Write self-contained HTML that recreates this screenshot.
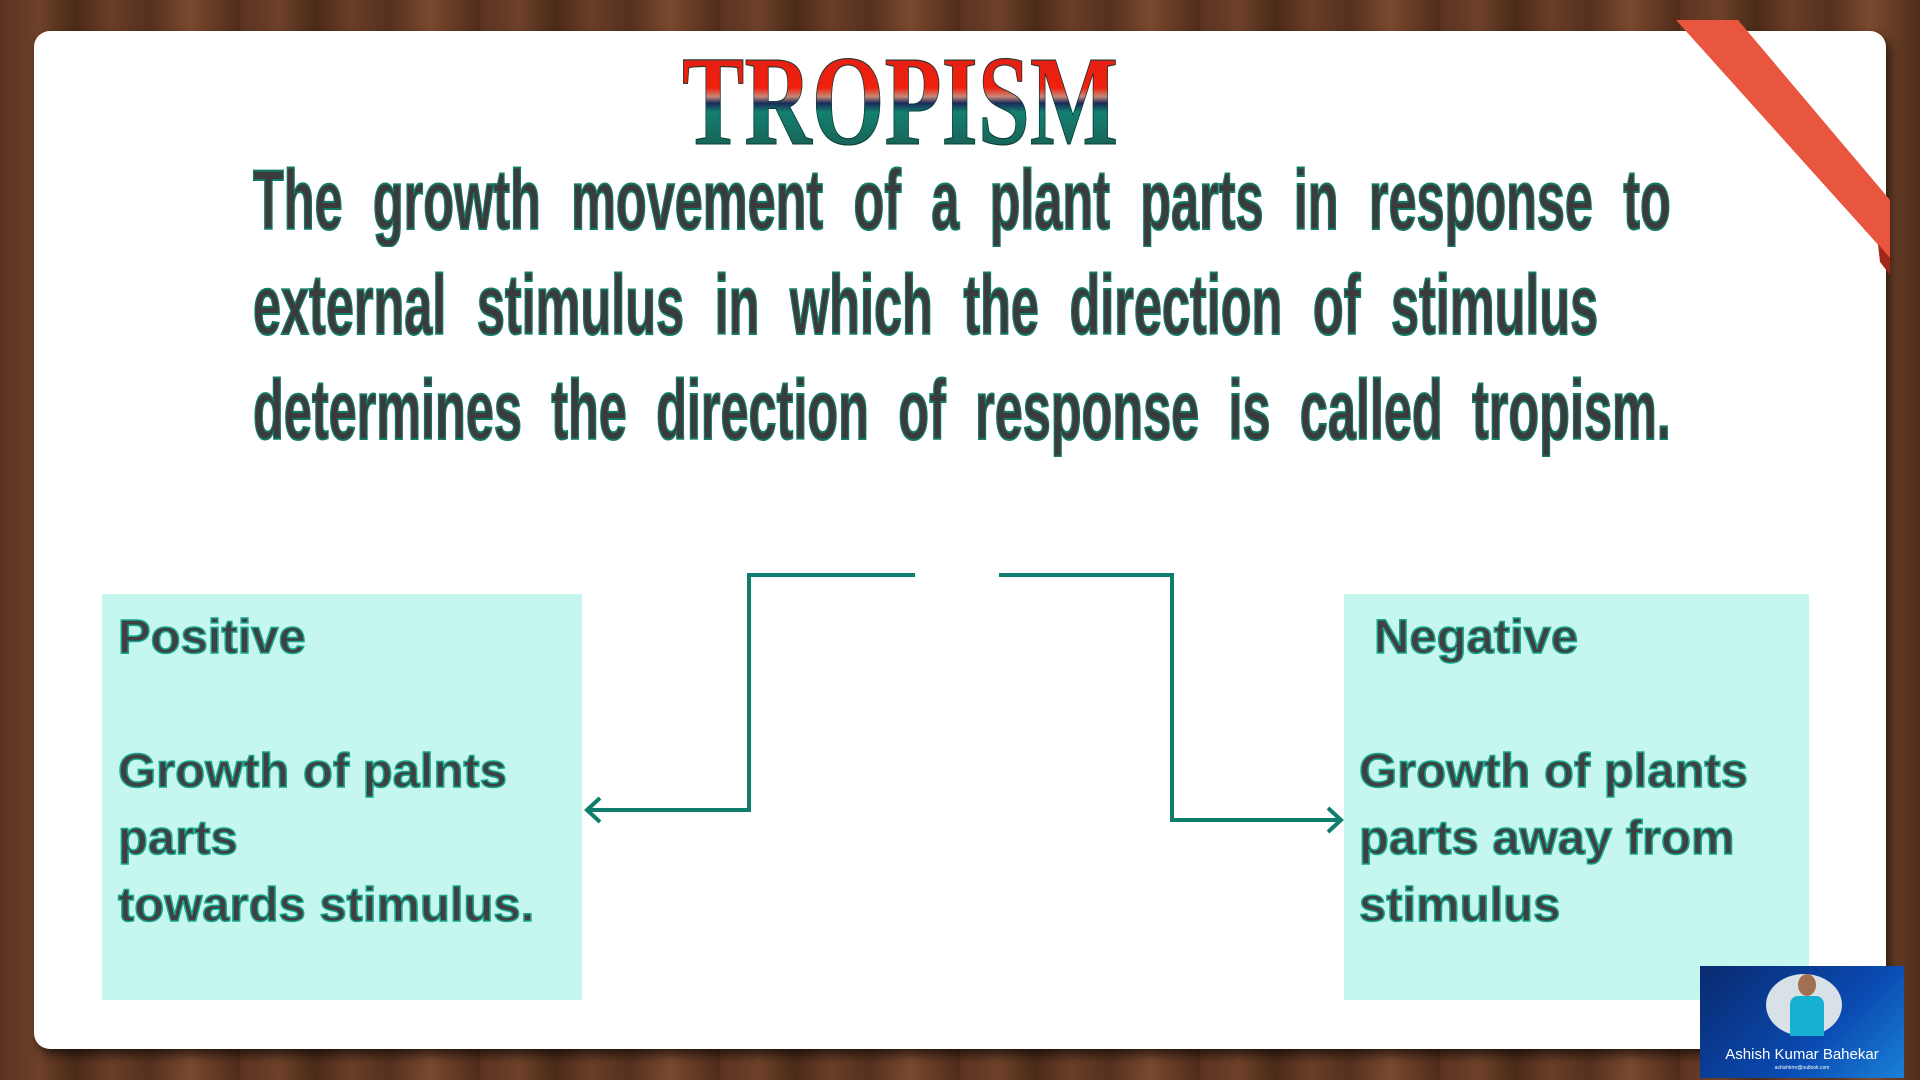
<!DOCTYPE html>
<html><head><meta charset="utf-8"><style>
html,body{margin:0;padding:0}
body{width:1920px;height:1080px;position:relative;overflow:hidden;
background:repeating-linear-gradient(90deg,#5b3421 0,#6e4129 40px,#4a2a19 75px,#6a3e26 110px,#55311e 150px,#7a4a2e 190px,#4f2c1a 240px);}
.card{position:absolute;left:34px;top:31px;width:1852px;height:1018px;background:#fff;border-radius:16px;box-shadow:4px 6px 10px rgba(0,0,0,.6)}
.title{position:absolute;left:682px;top:46px;width:436px;height:110px;overflow:visible}
.title span{display:inline-block;font-family:"Liberation Serif",serif;font-weight:bold;font-size:128px;line-height:110px;transform:scaleX(0.73);transform-origin:left top;white-space:nowrap;
background:linear-gradient(180deg,#e02018 0%,#f0200c 38%,#c88878 46%,#1a2a5a 52%,#138070 60%,#1a5a50 100%);-webkit-background-clip:text;background-clip:text;color:transparent;-webkit-text-stroke:1px #0b3d35}
.para{position:absolute;left:253px;font-family:"Liberation Sans",sans-serif;font-weight:bold;font-size:84px;color:#3b3b3b;-webkit-text-stroke:2px #137a68;line-height:100px;white-space:nowrap;transform:scaleX(0.6);transform-origin:left top;text-align:justify;text-align-last:justify}
.box{position:absolute;top:594px;height:406px;background:#c5f7ef}
.bt{position:absolute;font-family:"Liberation Sans",sans-serif;font-weight:bold;font-size:48px;color:#404040;-webkit-text-stroke:1.5px #17a890;white-space:nowrap;transform:scaleX(1.02);transform-origin:left top;line-height:67px}
.badge{position:absolute;left:1700px;top:966px;width:204px;height:112px;background:linear-gradient(135deg,#0a2a70,#0a4ab0 60%,#1a80d8);overflow:hidden}
</style></head><body>
<div class="card"></div>
<svg style="position:absolute;left:0;top:0" width="1920" height="1080">
<polygon points="1676,20 1738,20 1890,200 1890,258" fill="#e8563f"/>
<polygon points="1878,244 1890,258 1890,275 1880,262" fill="#a02818"/>
<g fill="none" stroke="#0f7d6c" stroke-width="4">
<polyline points="915,575 749,575 749,810 587,810"/>
<polyline points="600,798 587,810 600,822"/>
<polyline points="999,575 1172,575 1172,820 1341,820"/>
<polyline points="1328,808 1341,820 1328,832"/>
</g>
</svg>
<div class="title"><span>TROPISM</span></div>
<div class="para" style="top:150px;width:2363px">The growth movement of a plant parts in response to</div>
<div class="para" style="top:255px;width:2242px">external stimulus in which the direction of stimulus</div>
<div class="para" style="top:360px;width:2363px">determines the direction of response is called tropism.</div>
<div class="box" style="left:102px;width:480px"></div>
<div class="box" style="left:1344px;width:465px"></div>
<div class="bt" style="left:118px;top:604px">Positive</div>
<div class="bt" style="left:118px;top:738px">Growth of palnts<br>parts<br>towards stimulus.</div>
<div class="bt" style="left:1374px;top:604px">Negative</div>
<div class="bt" style="left:1359px;top:738px">Growth of plants<br>parts away from<br>stimulus</div>
<div class="badge">
<div style="position:absolute;left:66px;top:8px;width:76px;height:62px;border-radius:50%;background:#d8e0e8"></div>
<div style="position:absolute;left:90px;top:30px;width:34px;height:40px;background:#18b0d0;border-radius:8px 8px 0 0"></div>
<div style="position:absolute;left:98px;top:8px;width:18px;height:22px;background:#a07050;border-radius:50%"></div>
<div style="position:absolute;left:0;top:80px;width:204px;text-align:center;color:#fff;font-family:'Liberation Sans',sans-serif;font-size:15px">Ashish Kumar Bahekar</div>
<div style="position:absolute;left:0;top:99px;width:204px;text-align:center;color:#fff;font-family:'Liberation Sans',sans-serif;font-size:5px">ashishkmr@outlook.com</div>
</div>
</body></html>
